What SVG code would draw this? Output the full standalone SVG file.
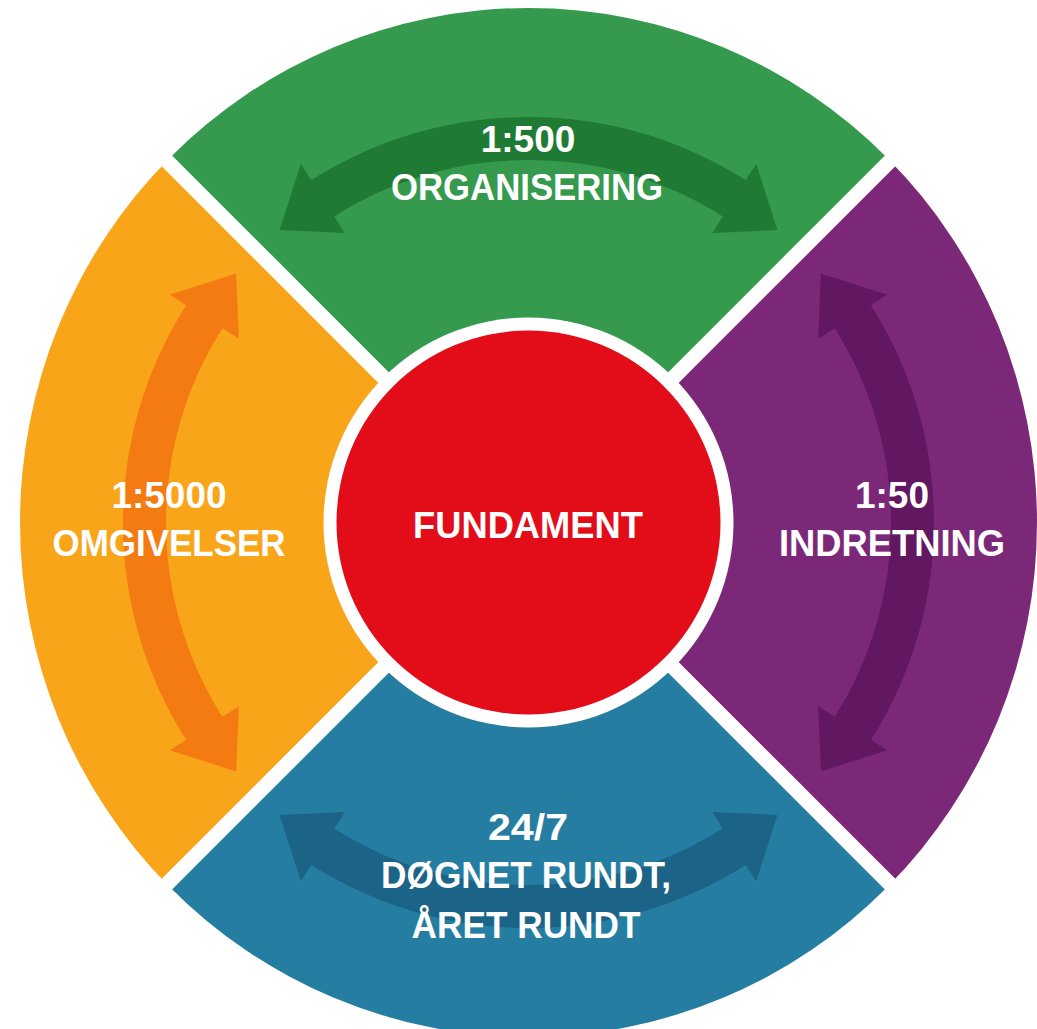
<svg xmlns="http://www.w3.org/2000/svg" xmlns:xlink="http://www.w3.org/1999/xlink" width="1037" height="1029" viewBox="0 0 1037 1029">
  <style>
    .lbl { font-family: "Liberation Sans", Arial, sans-serif; font-weight: bold; font-size: 37px; fill: #ffffff; text-anchor: middle; }
    .gap { stroke: #ffffff; stroke-width: 15; fill: none; }
  </style>
  <defs>
    <clipPath id="disc">
      <ellipse cx="528.5" cy="522.5" rx="508.5" ry="514.5"/>
    </clipPath>
    <path id="arc-arrow" d="M 279.6 230.1 L 300.8 163.7 L 311.2 180.1 A 405.5 405.5 0 0 1 745.8 180.1 L 756.2 163.7 L 777.4 230.1 L 712.3 232.9 L 722.7 216.4 A 362.5 362.5 0 0 0 334.3 216.4 L 344.7 232.9 Z"/>
  </defs>
  <rect x="0" y="0" width="1037" height="1029" fill="#ffffff"/>

  <g clip-path="url(#disc)">
    <g id="organisering">
      <polygon points="528.5,522.5 -171.5,-177.5 1228.5,-177.5" fill="#359A4D"/>
      <use xlink:href="#arc-arrow" href="#arc-arrow" fill="#1F7B33"/>
      <text class="lbl" x="528" y="152">1:500</text>
      <text class="lbl" x="527" y="200" textLength="272" lengthAdjust="spacingAndGlyphs">ORGANISERING</text>
    </g>
    <g id="indretning">
      <polygon points="528.5,522.5 1228.5,-177.5 1228.5,1222.5" fill="#7C2879"/>
      <use xlink:href="#arc-arrow" href="#arc-arrow" fill="#621860" transform="rotate(90 528.5 522.5)"/>
      <text class="lbl" x="892" y="508">1:50</text>
      <text class="lbl" x="892" y="556" textLength="226" lengthAdjust="spacingAndGlyphs">INDRETNING</text>
    </g>
    <g id="dognet-rundt">
      <polygon points="528.5,522.5 1228.5,1222.5 -171.5,1222.5" fill="#257EA1"/>
      <use xlink:href="#arc-arrow" href="#arc-arrow" fill="#1B6387" transform="rotate(180 528.5 522.5)"/>
      <text class="lbl" x="528" y="840" textLength="80" lengthAdjust="spacingAndGlyphs">24/7</text>
      <text class="lbl" x="526" y="888" textLength="290" lengthAdjust="spacingAndGlyphs">DØGNET RUNDT,</text>
      <text class="lbl" x="526" y="938" textLength="229" lengthAdjust="spacingAndGlyphs">ÅRET RUNDT</text>
    </g>
    <g id="omgivelser">
      <polygon points="528.5,522.5 -171.5,1222.5 -171.5,-177.5" fill="#F9A51A"/>
      <use xlink:href="#arc-arrow" href="#arc-arrow" fill="#F47B12" transform="rotate(-90 528.5 522.5)"/>
      <text class="lbl" x="169" y="508">1:5000</text>
      <text class="lbl" x="169" y="556" textLength="233" lengthAdjust="spacingAndGlyphs">OMGIVELSER</text>
    </g>
  </g>

  <g id="connectors">
    <line class="gap" x1="-171.5" y1="-177.5" x2="1228.5" y2="1222.5"/>
    <line class="gap" x1="1228.5" y1="-177.5" x2="-171.5" y2="1222.5"/>
  </g>

  <g id="fundament">
    <circle cx="528.5" cy="522.5" r="205" fill="#ffffff"/>
    <circle cx="528.5" cy="522.5" r="192" fill="#E20D19"/>
    <text class="lbl" x="528" y="538" textLength="230" lengthAdjust="spacingAndGlyphs">FUNDAMENT</text>
  </g>
</svg>
